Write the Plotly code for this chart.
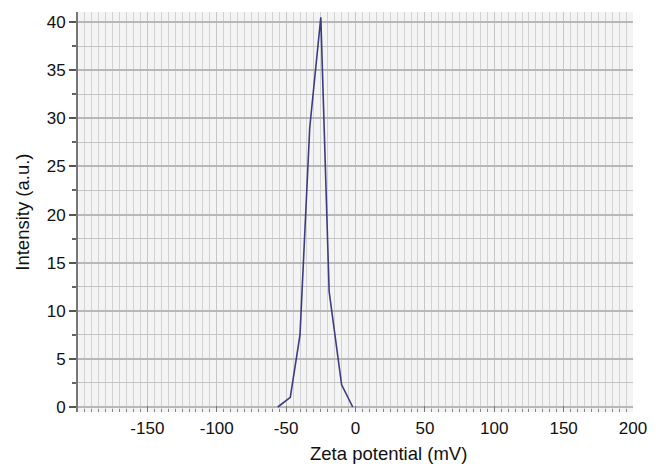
import plotly.graph_objects as go

zeta_mv = [-56, -47, -40, -33, -25, -19, -10, -2]
intensity = [0.0, 1.0, 7.5, 29.0, 40.5, 12.0, 2.3, 0.0]

x_tick_vals = [-150, -100, -50, 0, 50, 100, 150, 200]
y_tick_vals = [0, 5, 10, 15, 20, 25, 30, 35, 40]

fig = go.Figure()
fig.add_trace(go.Scatter(x=zeta_mv, y=intensity, mode="lines",
                         line=dict(color="#3b3b80", width=1.6), showlegend=False))

font = dict(family="Liberation Sans, Arial, sans-serif", size=17, color="#111111")
title_font = dict(family="Liberation Sans, Arial, sans-serif", size=18.5, color="#111111")
fig.update_layout(
    width=659, height=464,
    margin=dict(l=78, r=19, t=12, b=52),
    paper_bgcolor="white",
    plot_bgcolor="#f4f4f4",
    font=font,
    annotations=[
        dict(text="Zeta potential (mV)", xref="paper", yref="paper",
             x=(392 - 78) / 562, y=-(466 - 412) / 400, xanchor="center", yanchor="bottom",
             showarrow=False, font=title_font),
        dict(text="Intensity (a.u.)", xref="paper", yref="paper", textangle=-90,
             x=-(78 - 21) / 562, y=0.5, xanchor="center", yanchor="middle",
             showarrow=False, font=title_font),
    ],
)
fig.update_xaxes(
    range=[-200, 200], tickvals=x_tick_vals, ticktext=[str(v) for v in x_tick_vals],
    showgrid=True, gridcolor="#c6c6c6", gridwidth=1,
    ticks="inside", ticklen=6, tickcolor="#777777", tickwidth=1,
    ticklabelstandoff=4,
    minor=dict(dtick=5, tick0=0, showgrid=True, gridcolor="#d2d2d2", gridwidth=1,
               ticks="inside", ticklen=3, tickcolor="#888888"),
    showline=False, zeroline=False,
    tickfont=font,
)
fig.update_yaxes(
    range=[-0.52, 41.05], tickvals=y_tick_vals,
    showgrid=True, gridcolor="#b8b8b8", gridwidth=1.5,
    ticks="outside", ticklen=7, tickcolor="#555555", tickwidth=1.5,
    minor=dict(dtick=2.5, tick0=0, showgrid=True, gridcolor="#c4c4c4", gridwidth=1,
               ticks="outside", ticklen=4, tickcolor="#666666"),
    showline=True, linecolor="#777777", linewidth=2,
    zeroline=False,
    tickfont=font,
)
fig.write_html("out.html")
